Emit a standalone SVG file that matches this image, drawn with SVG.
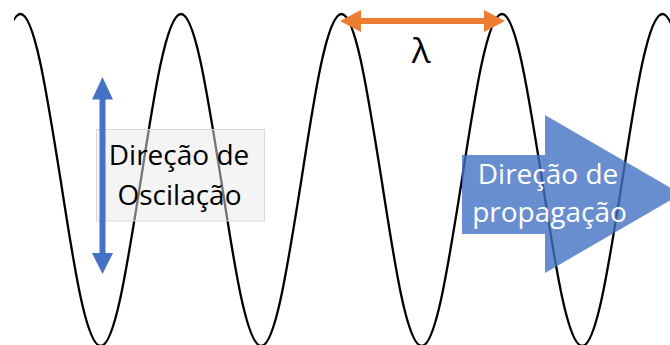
<svg xmlns="http://www.w3.org/2000/svg" width="670" height="345" viewBox="0 0 670 345">
  <style>
    .wave { fill: none; stroke: #000; stroke-width: 2.3; }
    .lbl { font-family: "Open Sans", "Noto Sans", "DejaVu Sans", sans-serif; font-size: 28px; text-anchor: middle; }
    .dark { fill: #000; }
    .light { fill: #fff; }
  </style>
  <defs>
    <clipPath id="clipWave">
      <rect x="14" y="0" width="660" height="350"/>
    </clipPath>
  </defs>
  <rect width="670" height="345" fill="#fff"/>

  <g id="wave" clip-path="url(#clipWave)">
    <path class="wave" d="M -19.625,180
      c 13.09,-85.04 25.6,-166 40.125,-166
      c 14.52,0 27.04,85.04 40.125,166
      c 13.09,85.04 25.6,166 40.125,166
      c 14.52,0 27.04,-85.04 40.125,-166
      c 13.09,-85.04 25.6,-166 40.125,-166
      c 14.52,0 27.04,85.04 40.125,166
      c 13.09,85.04 25.6,166 40.125,166
      c 14.52,0 27.04,-85.04 40.125,-166
      c 13.09,-85.04 25.6,-166 40.125,-166
      c 14.52,0 27.04,85.04 40.125,166
      c 13.09,85.04 25.6,166 40.125,166
      c 14.52,0 27.04,-85.04 40.125,-166
      c 13.09,-85.04 25.6,-166 40.125,-166
      c 14.52,0 27.04,85.04 40.125,166
      c 13.09,85.04 25.6,166 40.125,166
      c 14.52,0 27.04,-85.04 40.125,-166
      c 13.09,-85.04 25.6,-166 40.125,-166
      c 14.52,0 27.04,85.04 40.125,166"/>
  </g>

  <g id="oscillation-label">
    <rect x="96.5" y="129.5" width="168" height="91.5" fill="#e9e9e9" fill-opacity="0.5" stroke="#d9d9d9" stroke-width="1"/>
    <text class="lbl dark" x="179" y="165">Direção de</text>
    <text class="lbl dark" x="179.5" y="205">Oscilação</text>
  </g>

  <g id="oscillation-arrow">
    <polygon fill="#4472C4" points="102.5,77 113,99.5 105.5,99.5 105.5,253 113,253 102.5,274 92,253 99.5,253 99.5,99.5 92,99.5"/>
  </g>

  <g id="wavelength-arrow">
    <polygon fill="#ED7D31" points="340,21 361,10 361,18 484,18 484,10 505,21 484,32 484,24 361,24 361,32"/>
  </g>

  <g id="lambda-label">
    <text class="lbl dark" x="421" y="63" style="font-size:35px">λ</text>
  </g>

  <g id="propagation-arrow">
    <polygon fill="#4472C4" fill-opacity="0.8" points="462,155 545,155 545,115 681,194 545,273 545,234 462,234"/>
    <text class="lbl light" x="548" y="184">Direção de</text>
    <text class="lbl light" x="549.5" y="221.5">propagação</text>
  </g>
</svg>
